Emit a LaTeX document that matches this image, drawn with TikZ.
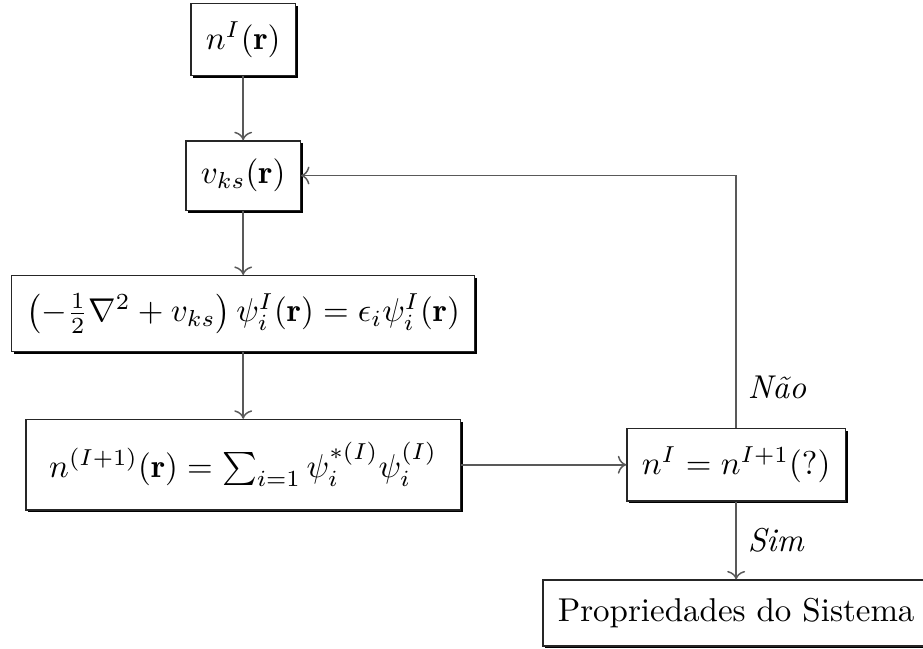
\documentclass[tikz,border=0pt]{standalone}
\usepackage{amsmath}
\usepackage{fontspec}
\usepackage{tikz}
\usetikzlibrary{arrows.meta, positioning, calc, shadows}

\begin{document}
\begin{tikzpicture}[
    bx/.style={draw=black!85, fill=white, line width=0.4pt, inner xsep=4.5pt, inner ysep=5.5pt,
        drop shadow={shadow xshift=0.7pt, shadow yshift=-0.7pt, opacity=1, fill=black}},
    ln/.style={black!65, line width=0.45pt, ->},
    lb/.style={text=black, right}]
    \useasboundingbox (0,0) rectangle (9.83,6.91);
    \node[bx] (N0) at (2.59,6.49) {$n^I(\mathbf{r})$};
    \node[bx] (V) at (2.59,5.04) {$v_{ks}(\mathbf{r})$};
    \node[bx] (KS) at (2.59,3.57) {$\left(-\frac{1}{2}\nabla^2+v_{ks}\right)\psi_i^I(\mathbf{r})=\epsilon_i\psi_i^I(\mathbf{r})$};
    \node[bx, inner xsep=7pt, inner ysep=7pt] (N1) at (2.59,1.96) {$n^{(I+1)}(\mathbf{r})=\sum_{i=1}\psi_i^{*(I)}\psi_i^{(I)}$};
    \node[bx] (T) at (7.84,1.96) {$n^I=n^{I+1}(?)$};
    \node[bx] (P) at (7.84,0.38) {Propriedades do Sistema};
    \foreach \i/\j in {N0/V,V/KS,KS/N1,N1/T} {
        \draw[ln] (\i)--(\j);
    }
    \draw[ln] (T) -- node[lb]{\textit{Sim}} (P);
    \draw[ln] (T) |- node[lb, pos=0.08]{\textit{Não}} (V);
\end{tikzpicture}
\end{document}
